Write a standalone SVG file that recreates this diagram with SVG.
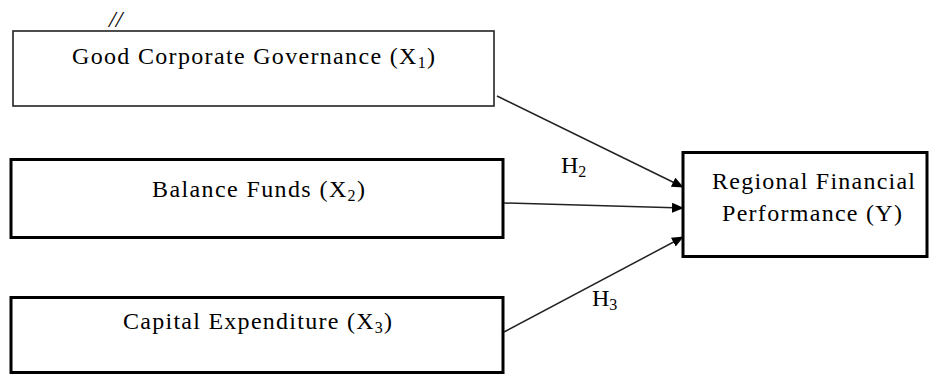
<svg xmlns="http://www.w3.org/2000/svg" width="930" height="374" viewBox="0 0 930 374">
<defs>
<marker id="ah" markerWidth="12" markerHeight="10" refX="11" refY="5" orient="auto" markerUnits="userSpaceOnUse">
<path d="M0,0 L12,5 L0,10 Z" fill="#000"/>
</marker>
<style>
.box{fill:#fff;stroke:#000;stroke-width:3}
.thin{stroke-width:1.6;stroke:#222}
.t{font-family:"Liberation Serif","Times New Roman",serif;font-size:24px;fill:#000}
.sub{font-size:16px}
.edge{stroke:#222;stroke-width:1.5;fill:none;marker-end:url(#ah)}
</style>
</defs>
<rect width="930" height="374" fill="#fff"/>
<text class="t" x="109" y="27" font-style="italic" font-size="24">//</text>
<g id="x1">
<rect class="box thin" x="13" y="31" width="481" height="75"/>
<text class="t" x="72" y="64" textLength="363" lengthAdjust="spacing">Good Corporate Governance (X<tspan class="sub" dy="4">1</tspan><tspan dy="-4">)</tspan></text>
</g>
<g id="x2">
<rect class="box" x="11" y="159.5" width="492" height="78"/>
<text class="t" x="152" y="197" textLength="213" lengthAdjust="spacing">Balance Funds (X<tspan class="sub" dy="4">2</tspan><tspan dy="-4">)</tspan></text>
</g>
<g id="x3">
<rect class="box" x="11" y="297.5" width="492" height="75"/>
<text class="t" x="123" y="329" textLength="269" lengthAdjust="spacing">Capital Expenditure (X<tspan class="sub" dy="4">3</tspan><tspan dy="-4">)</tspan></text>
</g>
<g id="y">
<rect class="box" x="683" y="152.5" width="244" height="104"/>
<text class="t" x="712" y="189" textLength="203" lengthAdjust="spacing">Regional Financial</text>
<text class="t" x="722" y="221" textLength="180" lengthAdjust="spacing">Performance (Y)</text>
</g>
<g id="connectors">
<line class="edge" x1="497" y1="96" x2="683" y2="187"/>
<line class="edge" x1="504" y1="203" x2="683" y2="208"/>
<line class="edge" x1="504" y1="332" x2="683" y2="237"/>
<text class="t" x="561" y="173">H<tspan class="sub" dy="4">2</tspan></text>
<text class="t" x="592" y="306">H<tspan class="sub" dy="4">3</tspan></text>
</g>
</svg>
